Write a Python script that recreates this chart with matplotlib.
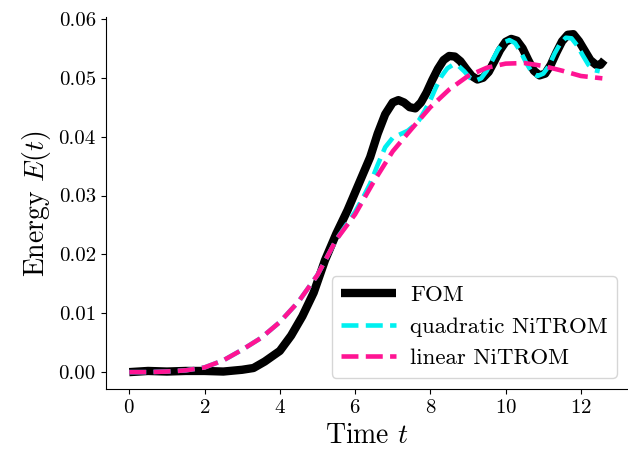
import numpy as np
import matplotlib
matplotlib.use("Agg")
import matplotlib.pyplot as plt

plt.rcParams['font.family'] = ['cmr10', 'DejaVu Serif']
plt.rcParams['mathtext.fontset'] = 'cm'
plt.rcParams['axes.formatter.use_mathtext'] = True

# FOM energy
t_fom = [0, 0.5, 1, 1.5, 2, 2.5, 3, 3.3, 3.6, 4.0, 4.3, 4.6, 4.9, 5.2, 5.5, 5.8,
         6.1, 6.4, 6.6, 6.8, 7.0, 7.15, 7.3, 7.45, 7.6, 7.75, 7.9, 8.05, 8.2,
         8.35, 8.5, 8.65, 8.8, 8.95, 9.1, 9.25, 9.4, 9.55, 9.7, 9.85, 10.0,
         10.15, 10.3, 10.45, 10.6, 10.75, 10.9, 11.05, 11.2, 11.35, 11.5,
         11.65, 11.8, 11.95, 12.1, 12.25, 12.4, 12.52, 12.62]
E_fom = [0, 0.0002, 0.0001, 0.0002, 0.0002, 0.0001, 0.0004, 0.0007, 0.0018,
         0.0036, 0.0062, 0.0095, 0.0135, 0.0190, 0.0235, 0.0275, 0.0320, 0.0365,
         0.0405, 0.0438, 0.0458, 0.0462, 0.0458, 0.0450, 0.0448, 0.0458, 0.0475,
         0.0496, 0.0515, 0.0530, 0.0537, 0.0536, 0.0528, 0.0515, 0.0503, 0.0497,
         0.0500, 0.0510, 0.0528, 0.0547, 0.0561, 0.0566, 0.0563, 0.0550, 0.0530,
         0.0512, 0.0504, 0.0507, 0.0522, 0.0543, 0.0562, 0.0573, 0.0574, 0.0562,
         0.0546, 0.0530, 0.0522, 0.0522, 0.0530]

# quadratic NiTROM
t_quad = [0, 0.5, 1, 1.5, 2, 2.5, 3, 3.5, 4, 4.5, 5, 5.5, 6.0, 6.2, 6.4, 6.6,
          6.8, 7.0, 7.2, 7.4, 7.55, 7.7, 7.85, 8.0, 8.15, 8.3, 8.45, 8.6,
          8.75, 8.9, 9.05, 9.2, 9.35, 9.5, 9.65, 9.8, 9.95, 10.1, 10.25,
          10.4, 10.55, 10.7, 10.85, 11.0, 11.15, 11.3, 11.45, 11.6, 11.75,
          11.9, 12.05, 12.2, 12.35, 12.5]
E_quad = [0, 0.0, 0.0001, 0.0003, 0.0008, 0.0020, 0.0038, 0.0058, 0.0085,
          0.0120, 0.0165, 0.0225, 0.0272, 0.0295, 0.0320, 0.0352, 0.0382,
          0.0398, 0.0404, 0.0410, 0.0418, 0.0428, 0.0444, 0.0462, 0.0484,
          0.0503, 0.0516, 0.0522, 0.0520, 0.0511, 0.0500, 0.0495, 0.0499,
          0.0512, 0.0530, 0.0548, 0.0560, 0.0564, 0.0559, 0.0544, 0.0525,
          0.0509, 0.0503, 0.0507, 0.0520, 0.0541, 0.0558, 0.0568, 0.0567,
          0.0555, 0.0538, 0.0522, 0.0513, 0.0511]

# linear NiTROM
t_lin = [0, 0.5, 1, 1.5, 2, 2.5, 3, 3.5, 4, 4.5, 5, 5.5, 6.0, 6.5, 7.0, 7.5,
         8.0, 8.5, 9.0, 9.5, 10.0, 10.5, 11.0, 11.5, 12.0, 12.57]
E_lin = [0, 0.0, 0.0001, 0.0003, 0.0008, 0.0020, 0.0038, 0.0058, 0.0085,
         0.0120, 0.0165, 0.0225, 0.0268, 0.0324, 0.0375, 0.0413, 0.0450,
         0.0480, 0.0503, 0.0517, 0.0524, 0.0525, 0.0520, 0.0512, 0.0503, 0.0499]

fig = plt.figure(figsize=(6.28, 4.55), dpi=100)
ax = fig.add_axes([0.168, 0.145, 0.832, 0.817])

ax.plot(t_fom, E_fom, color='black', lw=6, label='FOM',
        solid_joinstyle='round', solid_capstyle='butt')
ax.plot(t_quad, E_quad, color='#00F0F0', lw=3.3, ls='--', label='quadratic NiTROM',
        dash_joinstyle='round')
ax.plot(t_lin, E_lin, color='#FF1493', lw=3.3, ls='--', label='linear NiTROM',
        dash_joinstyle='round')

ax.set_xticks([0, 2, 4, 6, 8, 10, 12])
ax.set_yticks([0, 0.01, 0.02, 0.03, 0.04, 0.05, 0.06])
ax.set_yticklabels(['0.00', '0.01', '0.02', '0.03', '0.04', '0.05', '0.06'])
ax.tick_params(labelsize=15)
ax.set_xlabel('Time $t$', fontsize=20)
ax.set_ylabel('Energy $E(t)$', fontsize=20)
ax.spines['top'].set_visible(False)
ax.spines['right'].set_visible(False)
ax.legend(loc='lower right', fontsize=16.5, handlelength=2.4, handletextpad=0.6)

fig.savefig('out.png', dpi=100)
